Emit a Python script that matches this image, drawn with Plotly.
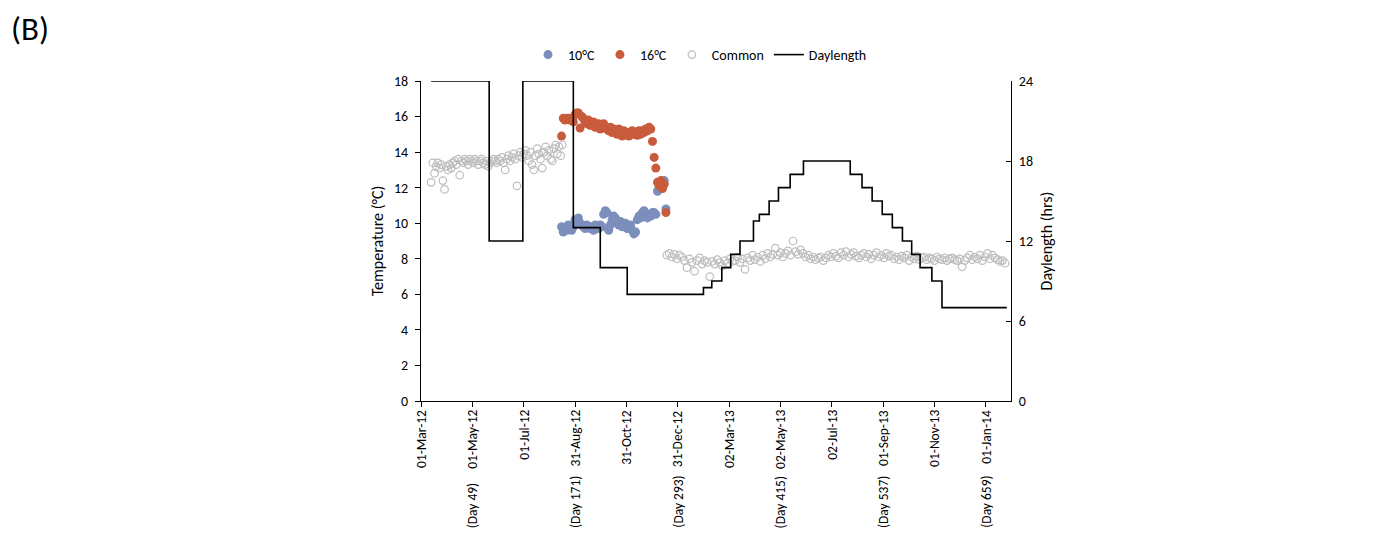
import pandas as pd
import numpy as np
import plotly.graph_objects as go

# ---------------- data (day numbers: Day 0 = 13-Mar-2012) ----------------
day0 = "2012-03-13"

# Common (both treatments), first period: every 2 days starting Day 0
common1_start, common1_step = 0, 2
common1_vals = [12.3, 13.4, 12.8, 13.2, 13.4, 13.1, 13.3, 12.4, 11.9, 13.2,
                13.0, 13.3, 13.1, 13.4, 13.5, 13.3, 13.6, 12.7, 13.5, 13.4,
                13.6, 13.5, 13.3, 13.6, 13.5, 13.4, 13.6, 13.5, 13.3, 13.5,
                13.6, 13.4, 13.3, 13.5, 13.2, 13.4, 13.5, 13.6, 13.5, 13.4,
                13.6, 13.5, 13.7, 13.4, 13.0, 13.6, 13.8, 13.5, 13.7, 13.9,
                13.6, 12.1, 13.8, 14.0, 13.7, 13.9, 14.1, 13.8, 13.5, 14.0,
                13.3, 13.0, 13.8, 14.2, 13.9, 13.6, 13.1, 14.0, 14.3, 13.8,
                14.1, 13.6, 13.5, 14.2, 14.4, 13.9, 14.3, 13.8, 14.4]

# Treatment period: every 2 days starting Day 155
treat_start, treat_step = 155, 2
t16_vals = [14.9, 15.9, 15.8, 15.9, 15.9, 15.8, 15.9, 15.7, 16.1, 16.2,
            16.2, 15.35, 16.0, 15.9, 15.7, 15.6, 15.8, 15.5, 15.6, 15.7,
            15.4, 15.5, 15.6, 15.3, 15.5, 15.6, 15.4, 15.3, 15.2, 15.4,
            15.1, 15.3, 15.2, 15.0, 15.3, 15.1, 14.9, 15.2, 15.0, 15.1,
            14.9, 15.0, 15.2, 15.0, 15.1, 14.95, 15.2, 15.0, 15.2, 15.1,
            15.3, 15.2, 15.4, 15.3, 14.6, 13.7, 13.1, 12.3, 12.1, 12.4,
            11.95, 12.2, 10.6]
t10_vals = [9.8, 9.5, 9.7, 9.6, 9.9, 9.7, 9.6, 9.8, 10.2, 10.1,
            10.3, 10.0, 9.9, 9.8, 9.7, 9.9, 9.8, 9.7, 9.8, 9.6,
            9.9, 9.8, 9.7, 9.9, 9.8, 10.5, 10.7, 10.6, 9.6, 9.9,
            10.2, 10.4, 10.3, 10.0, 9.9, 10.1, 9.8, 9.9, 10.0, 9.7,
            9.8, 9.9, 9.6, 9.4, 9.5, 10.2, 10.4, 10.3, 10.6, 10.7,
            10.4, 10.3, 10.5, 10.4, 10.6, 10.6, 10.5, 11.8, 12.0, 12.1,
            12.3, 12.4, 10.8]

# Common, second period: every 3 days starting Day 280
common2_start, common2_step = 280, 3
common2_vals = [8.2, 8.3, 8.1, 8.25, 8.0, 8.2, 8.1, 7.9, 7.5, 8.0,
                7.8, 7.3, 7.9, 8.05, 7.7, 7.9, 7.8, 7.0, 7.85, 7.7,
                7.95, 7.8, 7.6, 7.9, 7.75, 8.0, 7.85, 7.9, 8.1, 7.8,
                8.0, 7.4, 8.05, 7.9, 8.2, 7.95, 8.1, 7.85, 8.2, 8.0,
                8.3, 8.1, 8.25, 8.6, 8.2, 8.35, 8.1, 8.3, 8.45, 8.2,
                9.0, 8.4, 8.25, 8.5, 8.3, 8.1, 8.2, 8.0, 8.1, 7.95,
                8.05, 8.1, 7.9, 8.05, 8.2, 8.1, 8.3, 8.15, 8.05, 8.35,
                8.2, 8.4, 8.1, 8.25, 8.35, 8.15, 8.05, 8.2, 8.3, 8.1,
                8.25, 8.0, 8.2, 8.35, 8.1, 8.2, 8.05, 8.3, 8.15, 8.2,
                8.0, 8.1, 7.95, 8.15, 8.05, 8.2, 7.9, 8.1, 8.0, 8.15,
                7.95, 8.05, 8.1, 7.95, 8.05, 8.0, 7.9, 8.1, 8.0, 7.95,
                8.05, 7.9, 8.0, 8.05, 7.95, 7.9, 8.0, 7.55, 7.9, 8.05,
                8.2, 7.95, 8.1, 8.0, 8.2, 7.9, 8.1, 8.3, 8.0, 8.2,
                8.05, 7.95, 7.85, 7.9, 7.75]

# Daylength steps (day number, hours) - step held until next change
dl_days = [0, 69, 109, 169, 201, 233, 323.6, 333.5, 345.4, 356, 367, 383, 390,
           401.6, 412.7, 426.6, 442.4, 498, 512, 524, 536, 548, 560, 571, 581,
           595, 607, 684]
dl_hours = [24, 12, 24, 13, 10, 8, 8.5, 9, 10, 11, 12, 13.5, 14,
            15, 16, 17, 18, 17, 16, 15, 14, 13, 12, 11, 10,
            9, 7, 7]

# Axis ticks
tick_dates = ["2012-03-01", "2012-05-01", "2012-07-01", "2012-08-31", "2012-10-31",
              "2012-12-31", "2013-03-02", "2013-05-02", "2013-07-02", "2013-09-01",
              "2013-11-01", "2014-01-01"]
tick_text = ["01-Mar-12", "01-May-12", "01-Jul-12", "31-Aug-12", "31-Oct-12",
             "31-Dec-12", "02-Mar-13", "02-May-13", "02-Jul-13", "01-Sep-13",
             "01-Nov-13", "01-Jan-14"]
daylabel_dates = ["2012-05-01", "2012-08-31", "2012-12-31", "2013-05-02",
                  "2013-09-01", "2014-01-01"]
daylabel_text = ["(Day 49)", "(Day 171)", "(Day 293)", "(Day 415)",
                 "(Day 537)", "(Day 659)"]

# ---------------- helpers ----------------
base = pd.Timestamp(day0)


def to_dates(days):
    return [base + pd.Timedelta(days=float(d)) for d in days]


def grid(start, step, n):
    return [start + step * i for i in range(n)]


FONT = "Carlito, Calibri, Lato, 'Open Sans', sans-serif"
C10 = "#7C8EBB"
C16 = "#C95B3D"
CGREY = "#BDBDBD"

fig = go.Figure()

fig.add_trace(go.Scatter(
    x=to_dates(grid(treat_start, treat_step, len(t10_vals))), y=t10_vals,
    mode="markers", name="10°C",
    marker=dict(color=C10, size=9, line=dict(width=0))))
fig.add_trace(go.Scatter(
    x=to_dates(grid(treat_start, treat_step, len(t16_vals))), y=t16_vals,
    mode="markers", name="16°C",
    marker=dict(color=C16, size=9, line=dict(width=0))))
fig.add_trace(go.Scatter(
    x=to_dates(grid(common1_start, common1_step, len(common1_vals))) +
      to_dates(grid(common2_start, common2_step, len(common2_vals))),
    y=common1_vals + common2_vals,
    mode="markers", name="Common",
    marker=dict(symbol="circle-open", color=CGREY, size=7.5, line=dict(width=1.2))))
fig.add_trace(go.Scatter(
    x=to_dates(dl_days), y=dl_hours, mode="lines", name="Daylength",
    line=dict(color="black", width=1.6, shape="hv"), yaxis="y2"))

# Plot area in reference-page pixels: x 421..1011, y 81..401
# The page body has an 8 px margin, so the figure itself starts at (8, 8).
OFF = 8
L, R, T, B = 421, 1011, 81, 401
W, H = 1386 - 2 * OFF, 536 - 2 * OFF


def py(pix):
    return (B - pix) / (B - T)


def px(pix):
    return (pix - L) / (R - L)


annotations = [dict(text="(B)", x=px(9), y=py(29), xref="paper", yref="paper",
                    xanchor="left", yanchor="middle", showarrow=False,
                    font=dict(size=33, family=FONT, color="black"))]
# date tick labels (rotated), top-aligned just under the axis
for d, t in zip(tick_dates, tick_text):
    annotations.append(dict(text=t, x=d, y=py(408), xref="x", yref="paper",
                            textangle=-90, xanchor="center", yanchor="top",
                            showarrow=False,
                            font=dict(size=13.5, family=FONT, color="black")))
# day-number labels (rotated), bottom-aligned
for d, t in zip(daylabel_dates, daylabel_text):
    annotations.append(dict(text=t, x=d, y=py(530), xref="x", yref="paper",
                            textangle=-90, xanchor="center", yanchor="bottom",
                            showarrow=False,
                            font=dict(size=13.5, family=FONT, color="black")))

fig.update_layout(
    width=W, height=H,
    margin=dict(l=L - OFF, r=W - (R - OFF), t=T - OFF, b=H - (B - OFF)),
    paper_bgcolor="white", plot_bgcolor="white",
    font=dict(family=FONT, size=14, color="black"),
    showlegend=True,
    legend=dict(orientation="h", x=px(700), xanchor="center", y=py(55),
                yanchor="middle", font=dict(size=14, family=FONT),
                bgcolor="rgba(0,0,0,0)", itemwidth=30),
    xaxis=dict(type="date", range=["2012-03-01", "2014-01-31"],
               tickmode="array", tickvals=tick_dates, showticklabels=False,
               ticks="outside", ticklen=5, tickcolor="black",
               showline=True, linecolor="black", linewidth=1,
               showgrid=False, zeroline=False),
    yaxis=dict(range=[0, 18], dtick=2, ticks="outside", ticklen=5,
               tickcolor="black", showline=True, linecolor="black",
               linewidth=1, showgrid=False, zeroline=False,
               ticklabelstandoff=4,
               title=dict(text="Temperature (°C)", font=dict(size=16, family=FONT),
                          standoff=6),
               tickfont=dict(size=14, family=FONT)),
    yaxis2=dict(range=[0, 24], dtick=6, overlaying="y", side="right",
                ticks="inside", ticklen=5, tickcolor="black", showline=True,
                linecolor="black", linewidth=1, showgrid=False, zeroline=False,
                ticklabelstandoff=4,
                title=dict(text="Daylength (hrs)", font=dict(size=16, family=FONT),
                           standoff=8),
                tickfont=dict(size=14, family=FONT)),
    annotations=annotations,
)

fig.write_html("out.html")
